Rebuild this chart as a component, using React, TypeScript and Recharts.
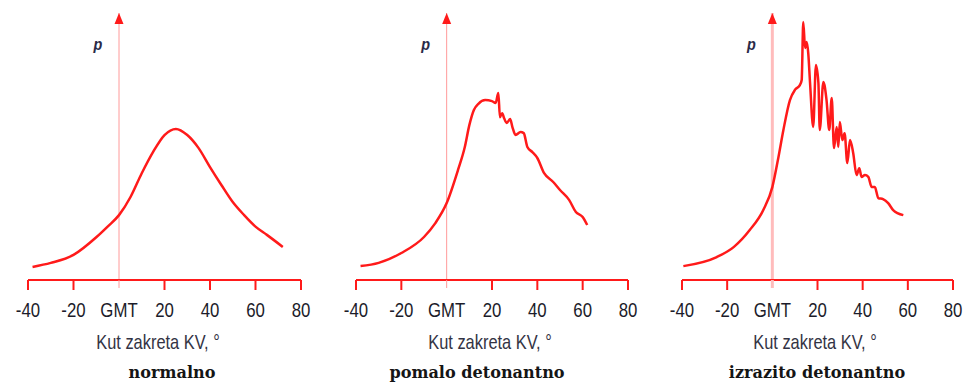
import React from 'react';
import { LineChart, Line, XAxis, YAxis, ReferenceLine } from 'recharts';

const xTicks = [-40, -20, 0, 20, 40, 60, 80];
const tickLabels = ['-40', '-20', 'GMT', '20', '40', '60', '80'];
const axisTitle = 'Kut zakreta KV, °';
const panelTitles = ['normalno', 'pomalo detonantno', 'izrazito detonantno'];

const normalAngle = [-38, -30, -20, -10, -5, 0, 5, 10, 15, 20, 25, 30, 35, 40, 45, 50, 55, 60, 65, 72];
const normalP = [4.9, 6.4, 9.4, 16, 20, 24.3, 31, 40, 48, 54.3, 56.6, 54.3, 49.4, 42.3, 35.6, 29.2, 24.3, 20, 16.9, 12.4];

const mildAngle = [-38, -30, -20, -10, -5, 0, 5, 8, 10, 12, 14, 17, 20, 21.6, 22.8, 23.5, 24.5, 25.3, 26.5, 28, 29, 30.4, 32.6, 34, 35.6, 37.8, 40, 43, 47, 50, 54, 57, 60, 62];
const mildP = [5.2, 6.4, 10.1, 16.1, 21.3, 28.8, 41.2, 49.8, 58, 63.7, 66, 67.4, 67, 66.3, 70, 61, 62.5, 60.7, 58.8, 60.3, 57.3, 54.3, 55.4, 55, 49.8, 47.9, 45.7, 40, 36.7, 33.7, 30, 25.5, 23.6, 20.6];

const heavyAngle = [-39.4, -24.6, -17, -10, -4, 0, 2.7, 4.9, 7.8, 10, 12.2, 13, 13.7, 14.5, 15.2, 15.9, 16.7, 18.1, 19.3, 20.4, 21, 22.6, 24, 25.2, 26.3, 27.3, 28.5, 29.2, 29.9, 31, 32, 33.2, 34.4, 35.8, 37.3, 38.5, 39.5, 41, 42.5, 44, 45.4, 46.9, 49, 51.3, 53.5, 58];
const heavyP = [5.2, 8.6, 12.4, 18.7, 26.2, 34.8, 46, 56.2, 67.4, 71.2, 73, 74.9, 96.6, 86.9, 89.1, 85, 73.8, 57.3, 80.5, 73.8, 56.2, 74.2, 67.4, 56.2, 68.2, 49.4, 57.3, 49.8, 59.2, 52.4, 55, 43.8, 52.4, 47.6, 39.3, 41.9, 38.6, 39.3, 38.6, 34.8, 34.8, 30.7, 30.3, 28.8, 26.2, 24.3];

const toRows = (xs: number[], ys: number[]) => xs.map((x, i) => ({ x, p: ys[i] }));

const RED = '#ff1a1a';
const SANS = "'Liberation Sans', Arial, sans-serif";

const makeTick = (zeroColor: string, zeroWidth: number) => (props: any) => {
  const { x, y, payload } = props;
  const idx = xTicks.indexOf(payload.value);
  const label = idx >= 0 ? tickLabels[idx] : String(payload.value);
  const axisY = y - 12;
  const isZero = payload.value === 0;
  return (
    <g>
      {isZero ? (
        <line x1={x} x2={x} y1={axisY} y2={axisY + 8} stroke={zeroColor} strokeWidth={zeroWidth} />
      ) : (
        <line x1={x} x2={x} y1={axisY} y2={axisY + 10} stroke={RED} strokeWidth={2} />
      )}
      <text
        transform={`translate(${x},${axisY + 37}) scale(0.8,1)`}
        x={0}
        y={0}
        textAnchor="middle"
        fontFamily={SANS}
        fontSize={21}
        fill="#1c1c2a"
      >
        {label}
      </text>
    </g>
  );
};

const makeArrowLabel = () => (props: any) => {
  const vb = props.viewBox || {};
  const lx = vb.x;
  const top = vb.y;
  return (
    <g>
      <polygon points={`${lx},${top} ${lx - 4.5},${top + 11} ${lx + 4.5},${top + 11}`} fill={RED} />
      <text
        transform={`translate(${lx - 21},${top + 37}) scale(0.85,1)`}
        textAnchor="middle"
        fontFamily={SANS}
        fontStyle="italic"
        fontWeight="bold"
        fontSize={17}
        fill="#2a2a48"
      >
        p
      </text>
    </g>
  );
};

type PanelProps = {
  left: number;
  width: number;
  plotWidth: number;
  rows: { x: number; p: number }[];
  title: string;
  titleCenter: number;
  subCenter: number;
  lineColor: string;
  lineWidth: number;
};

const Panel = ({ left, width, plotWidth, rows, title, titleCenter, subCenter, lineColor, lineWidth }: PanelProps) => {
  const marginLeft = 28;
  const marginRight = width - marginLeft - plotWidth;
  return (
    <div style={{ position: 'absolute', left, top: 0, width, height: 385 }}>
      <LineChart
        width={width}
        height={385}
        data={rows}
        margin={{ top: 13, right: marginRight, bottom: 75, left: marginLeft }}
      >
        <XAxis
          dataKey="x"
          type="number"
          domain={[-40, 80]}
          ticks={xTicks}
          interval={0}
          height={30}
          tickLine={false}
          tickSize={10}
          tickMargin={2}
          axisLine={{ stroke: RED, strokeWidth: 2 }}
          tick={makeTick(lineColor, lineWidth)}
        />
        <YAxis hide domain={[0, 100]} type="number" />
        <ReferenceLine x={0} stroke={lineColor} strokeWidth={lineWidth} label={makeArrowLabel()} />
        <Line
          type="monotone"
          dataKey="p"
          stroke={RED}
          strokeWidth={2.5}
          dot={false}
          isAnimationActive={false}
        />
      </LineChart>
      <svg width={width} height={385} style={{ position: 'absolute', left: 0, top: 0, pointerEvents: 'none' }}>
        <text
          transform={`translate(${titleCenter - left},349) scale(0.8,1)`}
          textAnchor="middle"
          fontFamily={SANS}
          fontSize={20.5}
          fill="#333344"
        >
          {axisTitle}
        </text>
        <text
          transform={`translate(${subCenter - left},378) scale(0.92,1)`}
          textAnchor="middle"
          fontFamily="'DejaVu Serif', serif"
          fontWeight="bold"
          fontSize={17.5}
          fill="#151515"
        >
          {title}
        </text>
      </svg>
    </div>
  );
};

export default function App() {
  return (
    <div style={{ position: 'absolute', left: 0, top: 0, width: 966, height: 385, background: '#fff', overflow: 'hidden' }}>
      <Panel left={0} width={320} plotWidth={273} rows={toRows(normalAngle, normalP)} title={panelTitles[0]} titleCenter={158} subCenter={172} lineColor="#ff9a9a" lineWidth={1} />
      <Panel left={328} width={320} plotWidth={272} rows={toRows(mildAngle, mildP)} title={panelTitles[1]} titleCenter={490} subCenter={477} lineColor="#ff9a9a" lineWidth={1} />
      <Panel left={654} width={312} plotWidth={271} rows={toRows(heavyAngle, heavyP)} title={panelTitles[2]} titleCenter={815} subCenter={817} lineColor="#ffbcbc" lineWidth={3} />
    </div>
  );
}
